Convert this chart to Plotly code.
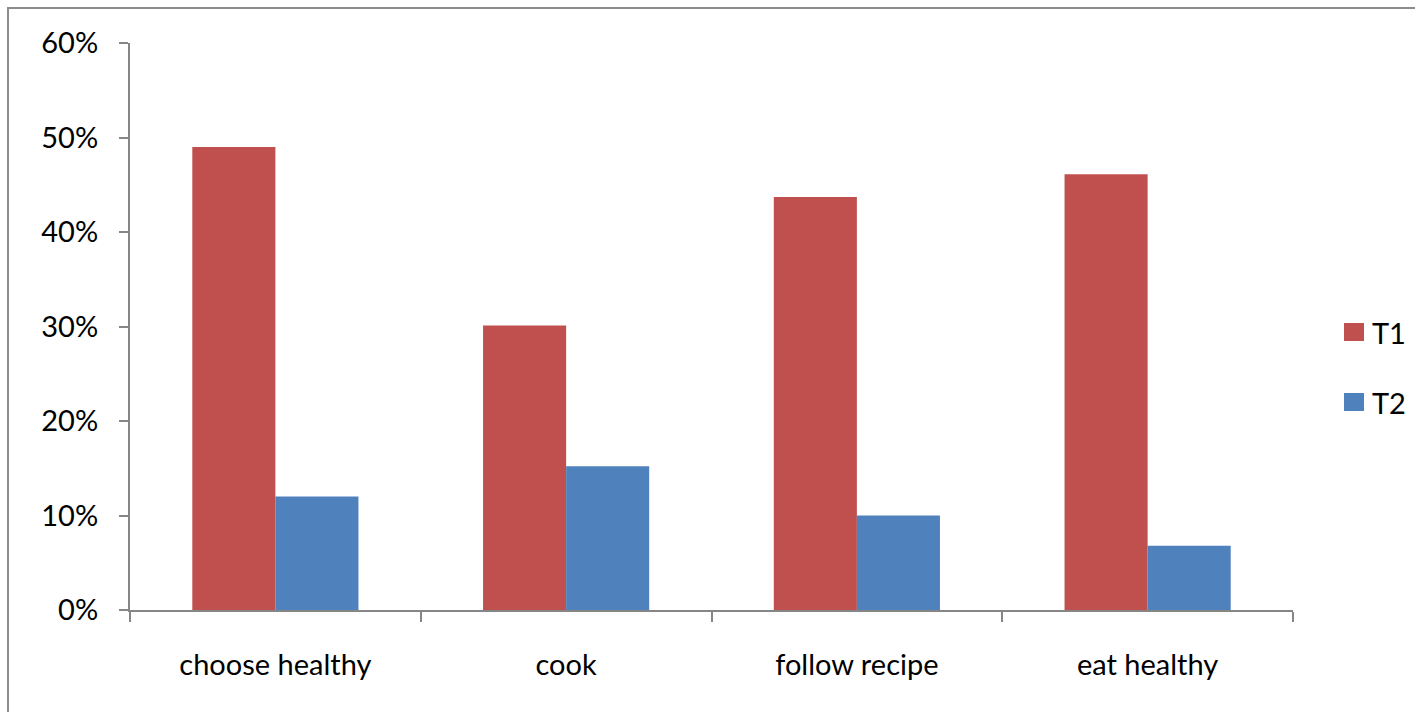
import plotly.graph_objects as go

categories = ["choose healthy", "cook", "follow recipe", "eat healthy"]
series_names = ["T1", "T2"]
series_colors = ["#C0504D", "#4F81BD"]
t1_values = [0.49, 0.301, 0.437, 0.461]
t2_values = [0.12, 0.152, 0.10, 0.068]

FONT = "Lato"
FONT_SIZE = 29
AXIS_GREY = "#868686"

W, H = 1415, 712
ML, MR, MT, MB = 130, 122, 43, 102
pw, ph = W - ML - MR, H - MT - MB


def px_x(x):
    return (x - ML) / pw


def px_y(y):
    return (H - MB - y) / ph


fig = go.Figure()
for name, vals, col in zip(series_names, [t1_values, t2_values], series_colors):
    fig.add_trace(go.Bar(name=name, x=categories, y=vals, marker_color=col,
                         marker_line_width=0, showlegend=False))

# outer chart-area frame (top and left edges visible)
fig.add_shape(type="rect", xref="paper", yref="paper",
              x0=px_x(8), x1=1.3, y0=-0.5, y1=px_y(8),
              line=dict(color="#8c8c8c", width=2), layer="below")

# legend: coloured square keys with labels
for i, (name, col) in enumerate(zip(series_names, series_colors)):
    top = 323 + i * 70
    fig.add_shape(type="rect", xref="paper", yref="paper",
                  x0=px_x(1344), x1=px_x(1364), y0=px_y(top + 18), y1=px_y(top),
                  fillcolor=col, line=dict(width=0))
    fig.add_annotation(xref="paper", yref="paper", x=px_x(1370), y=px_y(top + 9),
                       text=name, showarrow=False, xanchor="left", yanchor="middle",
                       font=dict(family=FONT, size=FONT_SIZE, color="black"))

fig.update_layout(
    width=W, height=H,
    margin=dict(l=ML, r=MR, t=MT, b=MB),
    paper_bgcolor="white", plot_bgcolor="white",
    barmode="group", bargap=1.5 / 3.5, bargroupgap=0,
    font=dict(family=FONT, size=FONT_SIZE, color="black"),
    showlegend=False,
)
fig.update_xaxes(showline=True, linecolor=AXIS_GREY, linewidth=2,
                 ticks="outside", tickson="boundaries", ticklen=10, tickwidth=2,
                 tickcolor=AXIS_GREY, ticklabelstandoff=28, showgrid=False)
fig.update_yaxes(range=[0, 0.6], dtick=0.1, tickformat=".0%", showline=True,
                 linecolor=AXIS_GREY, linewidth=2, ticks="outside", ticklen=9,
                 tickwidth=2, tickcolor=AXIS_GREY, ticklabelstandoff=15,
                 showgrid=False, zeroline=False)

fig.write_html("out.html")
